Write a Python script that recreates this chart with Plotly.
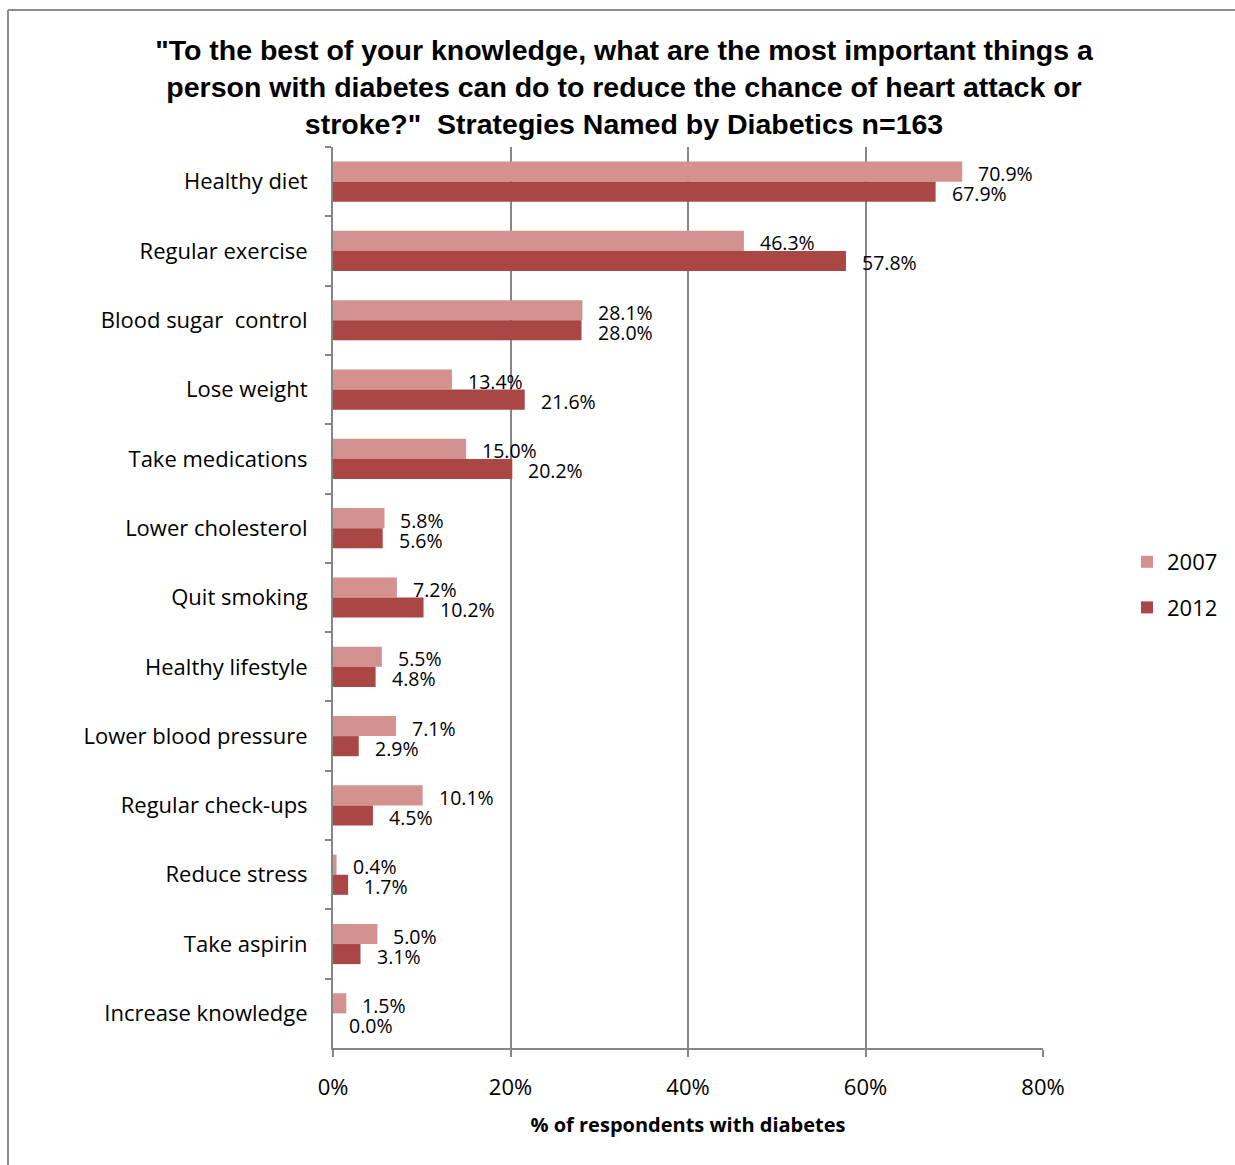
import plotly.graph_objects as go

# Strategies named by respondents, in display order (top to bottom)
categories = [
    "Healthy diet", "Regular exercise", "Blood sugar  control", "Lose weight",
    "Take medications", "Lower cholesterol", "Quit smoking", "Healthy lifestyle",
    "Lower blood pressure", "Regular check-ups", "Reduce stress", "Take aspirin",
    "Increase knowledge",
]
pct_2007 = [70.9, 46.3, 28.1, 13.4, 15.0, 5.8, 7.2, 5.5, 7.1, 10.1, 0.4, 5.0, 1.5]
pct_2012 = [67.9, 57.8, 28.0, 21.6, 20.2, 5.6, 10.2, 4.8, 2.9, 4.5, 1.7, 3.1, 0.0]
x_ticks = [0, 20, 40, 60, 80]
x_tick_labels = ["0%", "20%", "40%", "60%", "80%"]

TITLE_FONT = "Liberation Sans"
FONT = "Open Sans"
C2007 = "#D39190"
C2012 = "#AA4744"
GRID = "#868686"

fig = go.Figure()
fig.add_trace(go.Bar(
    y=categories, x=pct_2007, name="2007", orientation="h",
    marker=dict(color=C2007, line=dict(width=0)),
    legendgroup="a", hoverinfo="skip",
))
fig.add_trace(go.Bar(
    y=categories, x=pct_2012, name="2012", orientation="h",
    marker=dict(color=C2012, line=dict(width=0)),
    legendgroup="b", hoverinfo="skip",
))

# Value labels just past the end of each bar
annotations = []
for cat, v in zip(categories, pct_2007):
    annotations.append(dict(
        x=v, y=cat, xref="x", yref="y", text=f"{v:.1f}%", showarrow=False,
        xanchor="left", yanchor="middle", xshift=14, yshift=8,
        font=dict(family=FONT, size=19.5, color="black"),
    ))
for cat, v in zip(categories, pct_2012):
    annotations.append(dict(
        x=v, y=cat, xref="x", yref="y", text=f"{v:.1f}%", showarrow=False,
        xanchor="left", yanchor="middle", xshift=14, yshift=-12,
        font=dict(family=FONT, size=19.5, color="black"),
    ))

# Outer frame of the chart (top and left edges)
L, R, T, B = 333, 1043, 147, 1048
W, H = 1235, 1165
def px(xp):
    return (xp - L) / (R - L)
def py(yp):
    return (B - yp) / (B - T)

shapes = [
    dict(type="line", xref="paper", yref="paper", x0=px(8), x1=px(1236),
         y0=py(10), y1=py(10), line=dict(color="#8c8c8c", width=2)),
    dict(type="line", xref="paper", yref="paper", x0=px(8), x1=px(8),
         y0=py(10), y1=py(1166), line=dict(color="#8c8c8c", width=2)),
]

fig.update_layout(
    width=W, height=H,
    margin=dict(l=L, r=W - R, t=T, b=H - B, pad=0, autoexpand=False),
    paper_bgcolor="white", plot_bgcolor="white",
    barmode="group", bargap=0.42, bargroupgap=0,
    title=dict(
        text='"To the best of your knowledge, what are the most important things a<br>'
             'person with diabetes can do to reduce the chance of heart attack or<br>'
             'stroke?"  Strategies Named by Diabetics n=163',
        x=624 / W, xanchor="center", y=1 - 60 / H, yanchor="top",
        font=dict(family=TITLE_FONT, size=28.5, color="black", weight="bold"),
    ),
    font=dict(family=FONT, color="black"),
    xaxis=dict(
        range=[0, 80], tickvals=x_ticks, ticktext=x_tick_labels,
        showgrid=True, gridcolor=GRID, gridwidth=2,
        showline=True, linecolor=GRID, linewidth=2,
        ticks="outside", ticklen=7, tickwidth=2, tickcolor=GRID,
        tickfont=dict(family=FONT, size=22, color="black"),
        ticklabelstandoff=12,
        zeroline=False, fixedrange=True,
        title=dict(text="% of respondents with diabetes", standoff=18,
                   font=dict(family=FONT, size=20, color="black", weight="bold")),
    ),
    yaxis=dict(
        categoryorder="array", categoryarray=categories, autorange="reversed",
        showline=True, linecolor=GRID, linewidth=2,
        ticks="outside", ticklen=6, tickwidth=2, tickcolor=GRID,
        tickson="boundaries", showgrid=False,
        tickfont=dict(family=FONT, size=22, color="black"),
        ticklabelstandoff=19, fixedrange=True,
    ),
    legend=dict(
        x=px(1127), xanchor="left", y=py(585), yanchor="middle",
        font=dict(family=FONT, size=22, color="black"),
        traceorder="grouped", tracegroupgap=14,
        itemwidth=30, bgcolor="rgba(0,0,0,0)",
    ),
    annotations=annotations,
    shapes=shapes,
    showlegend=True,
)

fig.write_html("out.html")
